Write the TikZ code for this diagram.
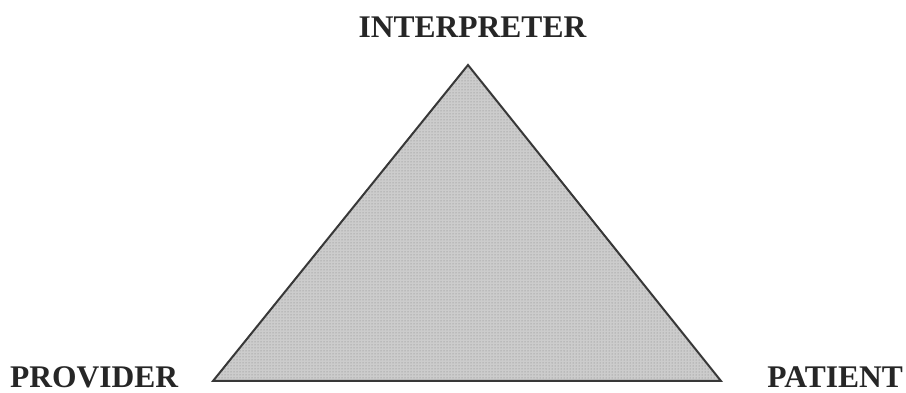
\documentclass[tikz,border=0pt]{standalone}
\usepackage{fontspec}
\setmainfont{Liberation Serif}
\usetikzlibrary{patterns}
\definecolor{edgegray}{HTML}{383838}
\definecolor{fillgray}{HTML}{CCCCCC}
\begin{document}
\begin{tikzpicture}[x=1pt,y=1pt,
  lbl/.style={inner sep=0pt,text depth=0pt,font=\fontsize{31.5}{36}\selectfont\bfseries,text=black!85}]
\useasboundingbox (0,0) rectangle (906,393);
\coordinate (top) at (468,328);
\coordinate (bl) at (213,12);
\coordinate (br) at (721,12);
\fill[fillgray] (top) -- (bl) -- (br) -- cycle;
\fill[pattern=dots,pattern color=black!50] (top) -- (bl) -- (br) -- cycle;
\draw[edgegray,line width=2pt,line join=miter] (top) -- (bl) -- (br) -- cycle;
\node[lbl,anchor=base] (interp) at (472.5,355) {INTERPRETER};
\node[lbl,anchor=base west] (prov) at (10,5) {PROVIDER};
\node[lbl,anchor=base east] (pat) at (903,5) {PATIENT};
\end{tikzpicture}
\end{document}
